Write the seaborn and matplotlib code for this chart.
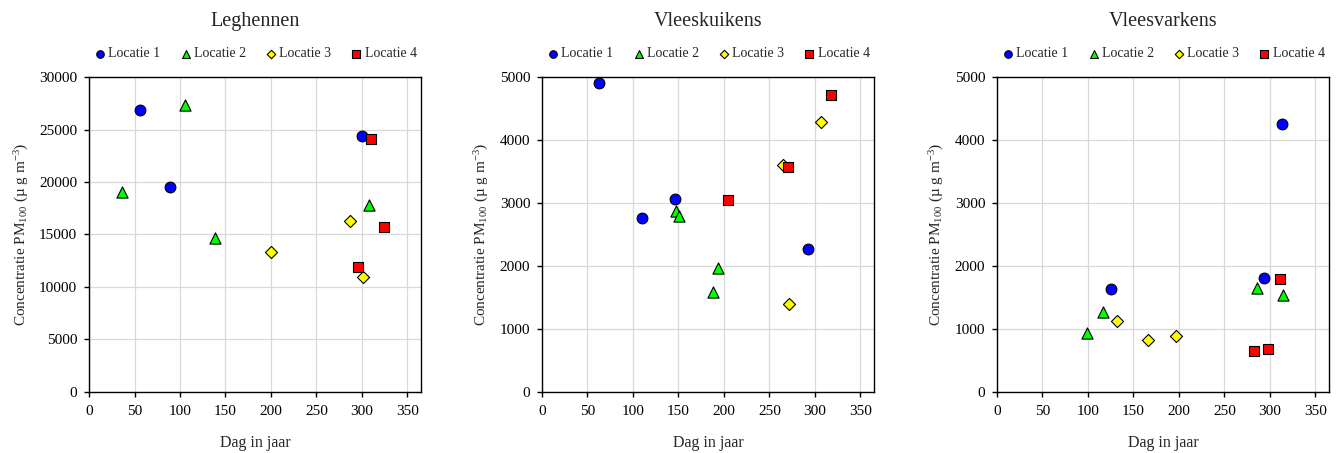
import pandas as pd
import matplotlib
matplotlib.use("Agg")
import matplotlib.pyplot as plt
import seaborn as sns

sns.set_theme(style="whitegrid", rc={
    "xtick.bottom": True, "ytick.left": True,
    "axes.edgecolor": "black", "axes.linewidth": 1.0,
    "grid.color": "#d9d9d9", "grid.linewidth": 0.9,
    "xtick.color": "black", "ytick.color": "black",
    "xtick.major.size": 3.5, "ytick.major.size": 3.5,
    "xtick.major.width": 1.0, "ytick.major.width": 1.0,
})
plt.rcParams['font.family'] = ['Liberation Serif', 'DejaVu Serif']
plt.rcParams['mathtext.fontset'] = 'custom'
plt.rcParams['mathtext.rm'] = 'Liberation Serif'
plt.rcParams['mathtext.it'] = 'Liberation Serif:italic'

# === Data ===
locaties = ['Locatie 1', 'Locatie 2', 'Locatie 3', 'Locatie 4']

# Leghennen
leg_dag = {
    'Locatie 1': [56, 89, 300],
    'Locatie 2': [36, 106, 139, 308],
    'Locatie 3': [200, 287, 301],
    'Locatie 4': [310, 324, 296],
}
leg_conc = {
    'Locatie 1': [26850, 19550, 24350],
    'Locatie 2': [19050, 27300, 14700, 17850],
    'Locatie 3': [13300, 16300, 10950],
    'Locatie 4': [24100, 15750, 11900],
}

# Vleeskuikens
vk_dag = {
    'Locatie 1': [63, 110, 146, 292],
    'Locatie 2': [147, 151, 194, 188],
    'Locatie 3': [307, 265, 272],
    'Locatie 4': [318, 271, 205],
}
vk_conc = {
    'Locatie 1': [4910, 2760, 3060, 2270],
    'Locatie 2': [2870, 2800, 1970, 1580],
    'Locatie 3': [4290, 3600, 1400],
    'Locatie 4': [4710, 3570, 3050],
}

# Vleesvarkens
vv_dag = {
    'Locatie 1': [313, 294, 125],
    'Locatie 2': [99, 117, 286, 315],
    'Locatie 3': [132, 166, 197],
    'Locatie 4': [311, 283, 298],
}
vv_conc = {
    'Locatie 1': [4250, 1810, 1630],
    'Locatie 2': [940, 1265, 1650, 1534],
    'Locatie 3': [1132, 825, 894],
    'Locatie 4': [1794, 645, 683],
}

titles = ['Leghennen', 'Vleeskuikens', 'Vleesvarkens']
ymax = [30000, 5000, 5000]
ystep = [5000, 1000, 1000]

palette = {'Locatie 1': '#0000FF', 'Locatie 2': '#00FF00',
           'Locatie 3': '#FFFF00', 'Locatie 4': '#FF0000'}
markers = {'Locatie 1': 'o', 'Locatie 2': '^', 'Locatie 3': 'D', 'Locatie 4': 's'}
sizes = {'Locatie 1': 60, 'Locatie 2': 65, 'Locatie 3': 38, 'Locatie 4': 55}


def to_frame(dag, conc):
    rows = []
    for loc in locaties:
        for d, c in zip(dag[loc], conc[loc]):
            rows.append({'Locatie': loc, 'Dag': d, 'Conc': c})
    return pd.DataFrame(rows)


frames = [to_frame(leg_dag, leg_conc), to_frame(vk_dag, vk_conc), to_frame(vv_dag, vv_conc)]

fig = plt.figure(figsize=(13.41, 4.53), dpi=100)
lefts = [0.0664, 0.4042, 0.7435]
for i, df in enumerate(frames):
    ax = fig.add_axes([lefts[i], 0.1347, 0.2475, 0.6953])
    for loc in locaties:
        sub = df[df['Locatie'] == loc]
        sns.scatterplot(data=sub, x='Dag', y='Conc', color=palette[loc],
                        marker=markers[loc], s=sizes[loc], edgecolor='black',
                        linewidth=0.8, ax=ax, label=loc, zorder=3)
    ax.set_xlim(0, 365)
    ax.set_ylim(0, ymax[i])
    ax.set_xticks(range(0, 351, 50))
    ax.set_yticks(range(0, ymax[i] + 1, ystep[i]))
    ax.tick_params(axis='both', labelsize=11, direction='out')
    ax.tick_params(axis='x', pad=6)
    ax.tick_params(axis='y', pad=5)
    ax.set_xlabel('Dag in jaar', fontsize=11.5, labelpad=12)
    ax.set_ylabel('Concentratie PM$_{100}$ (\u00b5 g m$^{-3}$)', fontsize=11, labelpad=6)
    for sp in ax.spines.values():
        sp.set_color('black')
        sp.set_linewidth(1.0)
    ax.set_title(titles[i], fontsize=14.5, pad=37)
    ax.legend(loc='lower center', bbox_to_anchor=(0.5, 1.0), ncol=4, frameon=False,
              fontsize=10, handlelength=1.0, handletextpad=0.1, columnspacing=1.3,
              markerscale=0.7, borderaxespad=0.8)

plt.savefig('out.png', dpi=100)
